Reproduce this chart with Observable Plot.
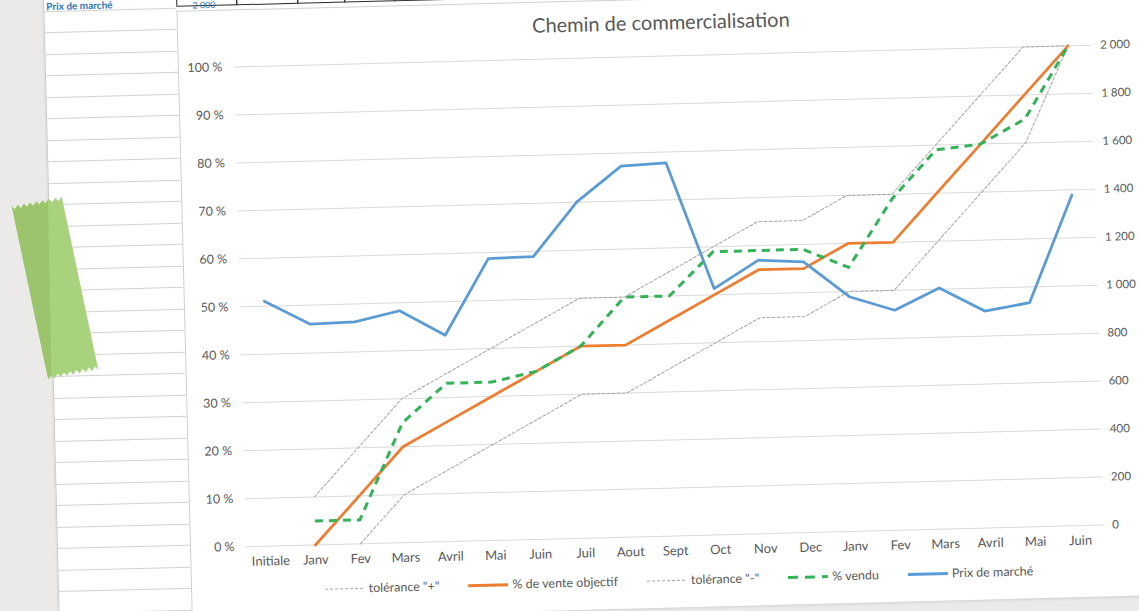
<!DOCTYPE html>
<html lang="fr">
<head>
<meta charset="utf-8">
<script src="https://cdn.jsdelivr.net/npm/d3@7"></script>
<script src="https://cdn.jsdelivr.net/npm/@observablehq/plot@0.6"></script>
<style>
  html, body { margin:0; padding:0; width:1139px; height:611px; overflow:hidden; background:#ebeae8; font-family: Lato, "Open Sans", sans-serif; }
  #stage { position:absolute; left:0; top:0; width:1139px; height:611px; transform: rotate(-1.45deg); transform-origin: 570px 305px; }
  #sheet { position:absolute; left:51px; top:-40px; width:1200px; height:649px; background:#fff; border-left:1px solid #c9c9c9; box-shadow: 0 2px 3px rgba(0,0,0,0.12); }
  .row { position:absolute; left:51px; width:133px; height:0; border-top:1px solid #d2d2d2; }
  .hcell { position:absolute; top:-27px; height:24px; border:1px solid #2b2b2b; box-sizing:border-box; }
  .hcell.light { border-color:#cfcfcf; }
  #panel { position:absolute; left:184px; top:1px; width:980px; height:608px; background:#fff; border-left:1px solid #d0d0d0; border-top:1px solid #d0d0d0; }
  #title { position:absolute; left:0; top:10px; width:966px; text-align:center; font-size:20px; line-height:24px; color:#595959; }
  #chart { position:absolute; left:0; top:40px; }
  #legend { position:absolute; left:0; top:573px; width:974px; display:flex; justify-content:center; gap:29px; font-size:12.5px; line-height:16px; color:#595959; }
  .item { display:flex; align-items:center; gap:4px; white-space:nowrap; }
  #tape { position:absolute; left:0; top:0; }
  .hdr { position:absolute; font-size:10px; line-height:10px; color:#2e75b6; white-space:nowrap; }
</style>
</head>
<body>
<div id="stage">
  <div id="sheet"></div>
  <div id="rows"></div>
  <div id="hcells"></div>
  <div class="hdr" style="left:54px; top:-12.5px; font-weight:bold;">Prix de marché</div>
  <div class="hdr" style="left:200px; top:-9px; font-size:9px; line-height:9px;">2 000</div>
  <div id="panel">
    <div id="title">Chemin de commercialisation</div>
    <div id="chart"></div>
    <div id="legend"></div>
  </div>
</div>
<svg id="tape" width="120" height="400"></svg>
<script>
// ---- data ----
const categories = ["Initiale","Janv","Fev","Mars","Avril","Mai","Juin","Juil","Aout","Sept","Oct","Nov","Dec","Janv","Fev","Mars","Avril","Mai","Juin"];
const tolPlus  = [null,0.10,0.20,0.30,0.35,0.40,0.45,0.50,0.50,0.55,0.60,0.65,0.65,0.70,0.70,0.80,0.90,1.00,1.00];
const objectif = [null,0.00,0.10,0.20,0.25,0.30,0.35,0.40,0.40,0.45,0.50,0.55,0.55,0.60,0.60,0.70,0.80,0.90,1.00];
const tolMinus = [null,null,0.00,0.10,0.15,0.20,0.25,0.30,0.30,0.35,0.40,0.45,0.45,0.50,0.50,0.60,0.70,0.80,1.00];
const vendu    = [null,0.05,0.05,0.25,0.33,0.33,0.35,0.40,0.50,0.50,0.59,0.59,0.59,0.55,0.69,0.79,0.80,0.85,1.00];
const prix     = [1021,921,925,967,860,1175,1178,1402,1546,1555,1026,1140,1128,978,917,1005,904,934,1378];
const pctTicks = [0,0.1,0.2,0.3,0.4,0.5,0.6,0.7,0.8,0.9,1.0];
const prixTicks = [0,200,400,600,800,1000,1200,1400,1600,1800,2000];
const prixMax = 2000;
const seriesNames = ['tolérance "+"', "% de vente objectif", 'tolérance "-"', "% vendu", "Prix de marché"];

// ---- decoration (spreadsheet, tape) ----
const rowsEl = document.getElementById("rows");
for (let k = 0; k < 30; k++) {
  const d = document.createElement("div");
  d.className = "row"; d.style.top = (-2.5 + 21.5 * k) + "px";
  rowsEl.appendChild(d);
}
const hc = document.getElementById("hcells");
const cellXs = [184,244,305,352,402,452,500,548,598,648,698,748,798,848,898,948,998,1048,1098,1148];
for (let k = 0; k < cellXs.length - 1; k++) {
  const d = document.createElement("div");
  d.className = "hcell" + (k >= 5 ? " light" : "");
  d.style.left = cellXs[k] + "px"; d.style.width = (cellXs[k+1] - cellXs[k] + 1) + "px";
  hc.appendChild(d);
}
function zig(a, b, n, amp) {
  const pts = [];
  for (let k = 0; k <= n; k++) {
    const t = k / n;
    const px = a[0] + (b[0] - a[0]) * t, py = a[1] + (b[1] - a[1]) * t;
    pts.push([px, py + (k % 2 ? amp : 0)]);
  }
  return pts;
}
const TL = [11.7, 206], TR = [61.7, 196.6], BR = [98.3, 369.8], BL = [48.3, 379.5];
const tapeTop = zig(TL, TR, 16, 4), tapeBot = zig(BR, BL, 16, -4);
const tapeSvg = d3.select("#tape");
tapeSvg.append("polygon").attr("points", [...tapeTop, ...tapeBot].map(p => p.join(",")).join(" ")).attr("fill", "#a8d37c");
const splitTop = [48, 199.5], splitBot = [51.5, 378.9];
const tapeTopL = zig(TL, splitTop, 12, 4), tapeBotL = zig(splitBot, BL, 2, -4);
tapeSvg.append("polygon").attr("points", [...tapeTopL, ...tapeBotL].map(p => p.join(",")).join(" ")).attr("fill", "#9cc46c");

// ---- chart ----
const rows = categories.map((c, i) => ({i, c, tolPlus: tolPlus[i], objectif: objectif[i], tolMinus: tolMinus[i], vendu: vendu[i], prix: prix[i]}));
const loc = d3.formatLocale({decimal: ",", thousands: "\u00a0", grouping: [3], currency: ["", " €"]});
const fmtPrix = loc.format(",d");
const colors = {tol: "#a6a6a6", obj: "#ED7D31", vendu: "#33b257", prix: "#5B9BD5"};

const plot = Plot.plot({
  width: 980, height: 526,
  marginTop: 16, marginBottom: 30, marginLeft: 55, marginRight: 67,
  style: {fontFamily: "Lato, 'Open Sans', sans-serif", fontSize: "12.5px", color: "#595959", background: "transparent", overflow: "visible"},
  x: {type: "point", domain: d3.range(categories.length), padding: 0.5, axis: null, label: null},
  y: {domain: [0, 1], axis: null, label: null},
  marks: [
    Plot.gridY(pctTicks, {stroke: "#d9d9d9", strokeOpacity: 1, strokeWidth: 1}),
    Plot.axisY(pctTicks, {anchor: "left", label: null, tickSize: 0, tickPadding: 12, tickFormat: d => `${Math.round(d * 100)}\u00a0%`}),
    Plot.axisY(pctTicks, {anchor: "right", label: null, tickSize: 0, tickPadding: 8, fontSize: 11.5, textAnchor: "start", tickFormat: d => fmtPrix(Math.round(d * prixMax))}),
    Plot.axisX(d3.range(categories.length), {label: null, tickSize: 0, tickPadding: 10, fontSize: 13, tickFormat: i => categories[i]}),
    Plot.line(rows, {x: "i", y: "tolPlus", stroke: colors.tol, strokeWidth: 1, strokeDasharray: "3,2"}),
    Plot.line(rows, {x: "i", y: "objectif", stroke: colors.obj, strokeWidth: 2.75}),
    Plot.line(rows, {x: "i", y: "tolMinus", stroke: colors.tol, strokeWidth: 1, strokeDasharray: "3,2"}),
    Plot.line(rows, {x: "i", y: "vendu", stroke: colors.vendu, strokeWidth: 3, strokeDasharray: "8,6", strokeLinecap: "butt"}),
    Plot.line(rows, {x: "i", y: d => d.prix / prixMax, stroke: colors.prix, strokeWidth: 2.75})
  ]
});
document.getElementById("chart").appendChild(plot);

// ---- legend ----
const legendStyles = [
  {stroke: colors.tol, w: 1, dash: "3,2"},
  {stroke: colors.obj, w: 3, dash: null},
  {stroke: colors.tol, w: 1, dash: "3,2"},
  {stroke: colors.vendu, w: 3, dash: "10,7"},
  {stroke: colors.prix, w: 3, dash: null}
];
const lg = document.getElementById("legend");
seriesNames.forEach((name, k) => {
  const s = legendStyles[k];
  const item = document.createElement("div");
  item.className = "item";
  item.innerHTML = `<svg width="40" height="10"><line x1="0" x2="40" y1="5" y2="5" stroke="${s.stroke}" stroke-width="${s.w}" ${s.dash ? `stroke-dasharray="${s.dash}"` : ""}/></svg><span>${name.replace(/"/g, "&quot;")}</span>`;
  lg.appendChild(item);
});
</script>
</body>
</html>
